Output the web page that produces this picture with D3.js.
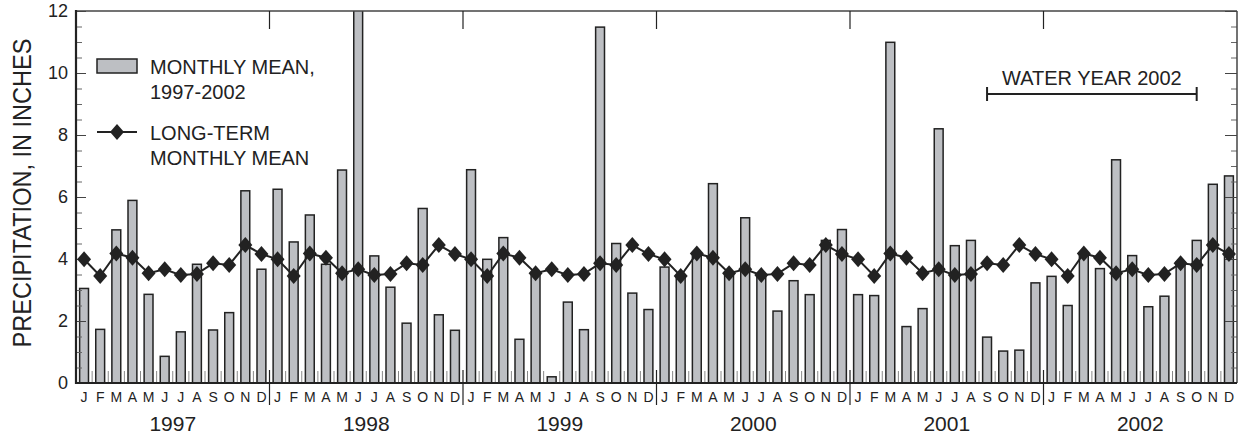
<!DOCTYPE html>
<html>
<head>
<meta charset="utf-8">
<script src="https://cdn.jsdelivr.net/npm/d3@7"></script>
<style>
  html, body { margin: 0; padding: 0; background: #fff; }
  svg { display: block; font-family: "Liberation Sans", Arial, Helvetica, sans-serif; }
</style>
</head>
<body>
<svg id="chart" width="1238" height="440"></svg>
<script>
// ---------- DATA ----------
const years = ["1997", "1998", "1999", "2000", "2001", "2002"];
const monthLetters = ["J", "F", "M", "A", "M", "J", "J", "A", "S", "O", "N", "D"];
const precip1997 = [3.05, 1.73, 4.94, 5.89, 2.86, 0.86, 1.65, 3.83, 1.71, 2.27, 6.20, 3.67];
const precip1998 = [6.25, 4.55, 5.42, 3.83, 6.87, 12.30, 4.10, 3.09, 1.93, 5.63, 2.20, 1.70];
const precip1999 = [6.88, 3.99, 4.69, 1.41, 3.55, 0.20, 2.61, 1.72, 11.48, 4.50, 2.90, 2.37];
const precip2000 = [3.74, 3.40, 4.10, 6.43, 3.50, 5.33, 3.45, 2.32, 3.30, 2.85, 4.60, 4.95];
const precip2001 = [2.85, 2.82, 10.99, 1.82, 2.40, 8.20, 4.43, 4.60, 1.48, 1.03, 1.06, 3.23];
const precip2002 = [3.44, 2.50, 4.12, 3.69, 7.20, 4.11, 2.46, 2.80, 3.90, 4.60, 6.41, 6.68];
const longTermMonthlyMean = [3.99, 3.45, 4.18, 4.04, 3.54, 3.67, 3.48, 3.52, 3.86, 3.81, 4.45, 4.16];
const yTickValues = [0, 2, 4, 6, 8, 10, 12];
const legendBarLabel = ["MONTHLY MEAN,", "1997-2002"];
const legendLineLabel = ["LONG-TERM", "MONTHLY MEAN"];
const yAxisTitle = "PRECIPITATION, IN INCHES";
const waterYearLabel = "WATER YEAR 2002";
const waterYearStart = 56; // month index (S 2001)
const waterYearEnd = 69;   // month index (S 2002)

// ---------- BUILD TABLE ----------
const monthly = [precip1997, precip1998, precip1999, precip2000, precip2001, precip2002];
const records = [];
monthly.forEach((arr, yi) => arr.forEach((v, mi) => {
  records.push({ idx: yi * 12 + mi, year: years[yi], month: mi, value: v, ltm: longTermMonthlyMean[mi] });
}));

// ---------- LAYOUT ----------
const svg = d3.select("#chart");
const W = 1238, H = 440;
const m = { left: 76, right: 1, top: 11, bottom: 57 };
const x0 = m.left, x1 = W - m.right, y0 = H - m.bottom, y1 = m.top;
const ink = "#222";

const x = d3.scaleBand().domain(records.map(d => d.idx)).range([x0, x1])
  .paddingInner(0.45).paddingOuter(0.225);
const xm = d3.scaleLinear().domain([0, records.length]).range([x0, x1]);
const xYear = d3.scaleBand().domain(years).range([x0, x1]);
const y = d3.scaleLinear().domain([0, 12]).range([y0, y1]);
const cx = i => x(i) + x.bandwidth() / 2;

svg.append("defs").append("clipPath").attr("id", "plotclip")
  .append("rect").attr("x", x0).attr("y", y1).attr("width", x1 - x0).attr("height", y0 - y1);

// month minor ticks (bottom, inside)
const monthBounds = d3.range(1, records.length).filter(i => i % 12 !== 0);
svg.append("g").selectAll("line").data(monthBounds).join("line")
  .attr("x1", d => xm(d)).attr("x2", d => xm(d))
  .attr("y1", y0).attr("y2", y0 - 12)
  .attr("stroke", "#888").attr("stroke-width", 1);

// bars
svg.append("g").attr("clip-path", "url(#plotclip)")
  .selectAll("rect").data(records).join("rect")
  .attr("x", d => x(d.idx)).attr("width", x.bandwidth())
  .attr("y", d => y(d.value)).attr("height", d => y(0) - y(d.value))
  .attr("fill", "#bdbfc3").attr("stroke", ink).attr("stroke-width", 1.5);

// y axes
const minorY = d3.range(0, 12.01, 0.5);
const leftAxis = d3.axisLeft(y).tickValues(minorY).tickSize(-6).tickFormat("");
svg.append("g").attr("transform", `translate(${x0},0)`).call(leftAxis)
  .call(g => g.select(".domain").remove())
  .call(g => g.selectAll("line").attr("stroke", "#666"));
const leftMajor = d3.axisLeft(y).tickValues(yTickValues).tickSize(-10).tickPadding(8).tickFormat(d3.format("d"));
svg.append("g").attr("transform", `translate(${x0},0)`).call(leftMajor)
  .call(g => g.select(".domain").remove())
  .call(g => g.selectAll("line").attr("stroke", "#444"))
  .call(g => g.selectAll("text").attr("font-size", 18).attr("fill", ink)
    .attr("font-family", "Liberation Sans, Arial, sans-serif"));
const rightMinor = d3.axisRight(y).tickValues(minorY).tickSize(-6).tickFormat("");
svg.append("g").attr("transform", `translate(${x1},0)`).call(rightMinor)
  .call(g => g.select(".domain").remove())
  .call(g => g.selectAll("line").attr("stroke", "#666"));
const rightMajor = d3.axisRight(y).tickValues(yTickValues).tickSize(-12).tickFormat("");
svg.append("g").attr("transform", `translate(${x1},0)`).call(rightMajor)
  .call(g => g.select(".domain").remove())
  .call(g => g.selectAll("line").attr("stroke", "#444"));

// frame
svg.append("line").attr("x1", x0).attr("x2", x1).attr("y1", y1).attr("y2", y1).attr("stroke", "#444").attr("stroke-width", 1.5);
svg.append("line").attr("x1", x1).attr("x2", x1).attr("y1", y1).attr("y2", y0).attr("stroke", "#444").attr("stroke-width", 1.5);
svg.append("line").attr("x1", x0).attr("x2", x0).attr("y1", y1 - 1).attr("y2", y0 + 1).attr("stroke", ink).attr("stroke-width", 2.2);
svg.append("line").attr("x1", x0).attr("x2", x1).attr("y1", y0).attr("y2", y0).attr("stroke", ink).attr("stroke-width", 2.2);

// year separators
const yearBounds = d3.range(1, years.length).map(i => i * 12);
svg.append("g").selectAll("line").data(yearBounds).join("line")
  .attr("x1", d => xm(d)).attr("x2", d => xm(d)).attr("y1", y0 - 13).attr("y2", y0 + 22)
  .attr("stroke", ink).attr("stroke-width", 1.2);
svg.append("g").selectAll("line").data(yearBounds).join("line")
  .attr("x1", d => xm(d)).attr("x2", d => xm(d)).attr("y1", y1).attr("y2", y1 + 18)
  .attr("stroke", ink).attr("stroke-width", 1.2);

// month labels
const monthAxis = d3.axisBottom(x).tickSize(0).tickPadding(9).tickFormat(i => monthLetters[i % 12]);
svg.append("g").attr("transform", `translate(0,${y0})`).call(monthAxis)
  .call(g => g.select(".domain").remove())
  .call(g => g.selectAll("text").attr("font-size", 14).attr("fill", ink)
    .attr("font-family", "Liberation Sans, Arial, sans-serif"));
// year labels
const yearAxis = d3.axisBottom(xYear).tickSize(0).tickPadding(33);
svg.append("g").attr("transform", `translate(0,${y0})`).call(yearAxis)
  .call(g => g.select(".domain").remove())
  .call(g => g.selectAll("text").attr("font-size", 21).attr("fill", ink)
    .attr("font-family", "Liberation Sans, Arial, sans-serif"));

// long-term mean line + diamonds
const diamond = (w, h) => `M0,${-h}L${w},0L0,${h}L${-w},0Z`;
svg.append("path").datum(records)
  .attr("d", d3.line().x(d => cx(d.idx)).y(d => y(d.ltm)))
  .attr("fill", "none").attr("stroke", ink).attr("stroke-width", 2);
svg.append("g").selectAll("path").data(records).join("path")
  .attr("transform", d => `translate(${cx(d.idx)},${y(d.ltm)})`)
  .attr("d", diamond(7, 8)).attr("fill", ink);

// y title
svg.append("text").attr("transform", `translate(31,${(y0 + y1) / 2 - 4}) rotate(-90)`)
  .attr("text-anchor", "middle").attr("font-size", 26).attr("fill", ink)
  .attr("textLength", 309).attr("lengthAdjust", "spacingAndGlyphs")
  .text(yAxisTitle);

// legend
const lg = svg.append("g");
lg.append("rect").attr("x", 97).attr("y", 59).attr("width", 40).attr("height", 14)
  .attr("fill", "#bdbfc3").attr("stroke", ink).attr("stroke-width", 1.5);
lg.selectAll("text.lb").data(legendBarLabel).join("text").attr("class", "lb")
  .attr("x", 150).attr("y", (d, i) => 74 + i * 25).attr("font-size", 20).attr("fill", ink).text(d => d);
lg.append("line").attr("x1", 97).attr("x2", 137).attr("y1", 132).attr("y2", 132).attr("stroke", ink).attr("stroke-width", 2);
lg.append("path").attr("transform", "translate(117,132)").attr("d", diamond(7, 8)).attr("fill", ink);
lg.selectAll("text.ll").data(legendLineLabel).join("text").attr("class", "ll")
  .attr("x", 150).attr("y", (d, i) => 140 + i * 25).attr("font-size", 20).attr("fill", ink).text(d => d);

// water year bracket
const wx0 = cx(waterYearStart), wx1 = cx(waterYearEnd), wy = 94;
const wg = svg.append("g").attr("stroke", ink).attr("stroke-width", 2);
wg.append("line").attr("x1", wx0).attr("x2", wx1).attr("y1", wy).attr("y2", wy);
wg.append("line").attr("x1", wx0).attr("x2", wx0).attr("y1", wy - 7).attr("y2", wy + 7);
wg.append("line").attr("x1", wx1).attr("x2", wx1).attr("y1", wy - 7).attr("y2", wy + 7);
svg.append("text").attr("x", (wx0 + wx1) / 2).attr("y", 85).attr("text-anchor", "middle")
  .attr("font-size", 20).attr("fill", ink).text(waterYearLabel);
</script>
</body>
</html>
